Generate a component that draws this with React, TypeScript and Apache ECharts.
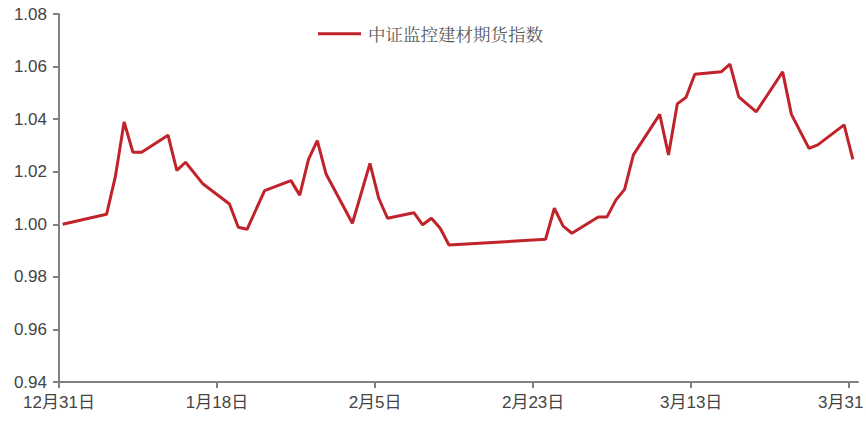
import React, { useEffect, useRef } from 'react';
import * as echarts from 'echarts';

// ---- data ----
const SERIES_NAME = '中证监控建材期货指数';
const START_DATE = '2014-12-31';
const END_DATE = '2015-04-01';
const SAMPLE_HOUR = 10; // time of day of each index reading

const dates = [
  '2014-12-31', '2015-01-05', '2015-01-06', '2015-01-07', '2015-01-08', '2015-01-09',
  '2015-01-12', '2015-01-13', '2015-01-14', '2015-01-16', '2015-01-19', '2015-01-20',
  '2015-01-21', '2015-01-23', '2015-01-26', '2015-01-27', '2015-01-28', '2015-01-29',
  '2015-01-30', '2015-02-02', '2015-02-04', '2015-02-05', '2015-02-06', '2015-02-09',
  '2015-02-10', '2015-02-11', '2015-02-12', '2015-02-13', '2015-02-24', '2015-02-25',
  '2015-02-26', '2015-02-27', '2015-03-02', '2015-03-03', '2015-03-04', '2015-03-05',
  '2015-03-06', '2015-03-09', '2015-03-10', '2015-03-11', '2015-03-12', '2015-03-13',
  '2015-03-16', '2015-03-17', '2015-03-18', '2015-03-20', '2015-03-23', '2015-03-24',
  '2015-03-26', '2015-03-27', '2015-03-30', '2015-03-31',
];

const values = [
  1.0, 1.0038, 1.0181, 1.0389, 1.0274, 1.0274,
  1.0339, 1.0205, 1.0236, 1.0153, 1.0077, 0.9989,
  0.9981, 1.0128, 1.0166, 1.0111, 1.0247, 1.0318,
  1.0191, 1.0004, 1.0232, 1.0099, 1.0023, 1.0044,
  0.9998, 1.0023, 0.9985, 0.9921, 0.9943, 1.0061,
  0.9993, 0.9966, 1.0028, 1.0028, 1.0092, 1.0133,
  1.0264, 1.0418, 1.0264, 1.0458, 1.0483, 1.0571,
  1.058, 1.0609, 1.0485, 1.0428, 1.058, 1.0418,
  1.0289, 1.0302, 1.0378, 1.0247,
];

const tickDates = ['2014-12-31', '2015-01-18', '2015-02-05', '2015-02-23', '2015-03-13', '2015-03-31'];

const Y_MIN = 0.94;
const Y_MAX = 1.08;
const Y_STEP = 0.02;

// ---- helpers ----
const DAY = 86400000;
const dayOffset = (d: string) => (Date.parse(d) - Date.parse(START_DATE)) / DAY;
const dayLabel = (v: number) => {
  const dt = new Date(Date.parse(START_DATE) + Math.round(v) * DAY);
  return `${dt.getUTCMonth() + 1}月${dt.getUTCDate()}日`;
};

export default function App() {
  const ref = useRef<HTMLDivElement>(null);

  useEffect(() => {
    if (!ref.current) return;
    const chart = echarts.init(ref.current, null, { renderer: 'svg' });
    const tickVals = tickDates.map(dayOffset);
    const axisLineStyle = { color: '#808080', width: 2 };
    const labelFont = 'Arial, "Liberation Sans", "Noto Sans CJK SC", sans-serif';

    chart.setOption({
      animation: false,
      backgroundColor: '#ffffff',
      grid: {
        left: 59,
        right: 8,
        top: 14,
        bottom: 42,
        containLabel: false,
        outerBoundsMode: 'none',
      },
      legend: {
        data: [SERIES_NAME],
        left: 313,
        top: 20,
        icon: 'rect',
        itemWidth: 43,
        itemHeight: 3,
        itemGap: 7,
        textStyle: {
          fontSize: 17.5,
          color: '#5a5a5a',
          fontFamily: '"Noto Serif CJK SC", "Noto Sans CJK SC", serif',
          padding: [0, 0, 0, 2],
        },
      },
      xAxis: {
        type: 'value',
        min: 0,
        max: dayOffset(END_DATE),
        axisLine: { show: true, lineStyle: axisLineStyle },
        axisTick: { show: true, length: 6, lineStyle: axisLineStyle, customValues: tickVals },
        axisLabel: {
          customValues: tickVals,
          formatter: (v: number) => dayLabel(v),
          color: '#444',
          fontSize: 17,
          fontFamily: labelFont,
          margin: 12,
          hideOverlap: false,
        },
        splitLine: { show: false },
      },
      yAxis: {
        type: 'value',
        min: Y_MIN,
        max: Y_MAX,
        interval: Y_STEP,
        axisLine: { show: true, lineStyle: axisLineStyle },
        axisTick: { show: true, length: 6, lineStyle: axisLineStyle },
        axisLabel: {
          formatter: (v: number) => v.toFixed(2),
          color: '#444',
          fontSize: 17,
          fontFamily: labelFont,
          margin: 12,
        },
        splitLine: { show: false },
      },
      series: [
        {
          name: SERIES_NAME,
          type: 'line',
          symbol: 'none',
          color: '#C1232B',
          lineStyle: { width: 3, color: '#C1232B' },
          data: dates.map((d, i) => [dayOffset(d) + SAMPLE_HOUR / 24, values[i]]),
        },
      ],
    });
    return () => chart.dispose();
  }, []);

  return (
    <div
      ref={ref}
      style={{ position: 'fixed', left: 0, top: 0, width: 866, height: 424, background: '#fff' }}
    />
  );
}
